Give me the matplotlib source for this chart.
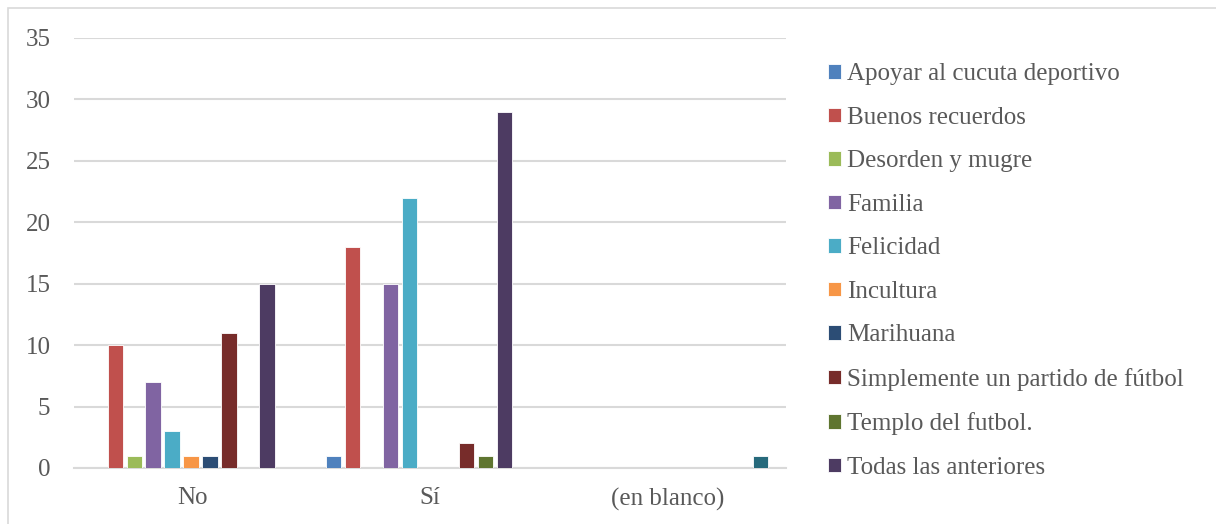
import numpy as np
import matplotlib.pyplot as plt
from matplotlib.patches import Rectangle

plt.rcParams['font.family'] = ['Liberation Serif', 'DejaVu Serif']

grupos = ['No', 'Sí', '(en blanco)']
series = ['Apoyar al cucuta deportivo', 'Buenos recuerdos', 'Desorden y mugre',
          'Familia', 'Felicidad', 'Incultura', 'Marihuana',
          'Simplemente un partido de fútbol', 'Templo del futbol.',
          'Todas las anteriores', '(en blanco)']
colores = ['#4F81BD', '#C0504D', '#9BBB59', '#8064A2', '#4BACC6', '#F79646',
           '#2C4D75', '#772C2A', '#5F7530', '#4D3B62', '#276A7C']

# conteos por serie: [No, Sí, (en blanco)]
apoyar = [0, 1, 0]
buenos = [10, 18, 0]
desorden = [1, 0, 0]
familia = [7, 15, 0]
felicidad = [3, 22, 0]
incultura = [1, 0, 0]
marihuana = [1, 0, 0]
simplemente = [11, 2, 0]
templo = [0, 1, 0]
todas = [15, 29, 0]
blanco = [0, 0, 1]
valores = [apoyar, buenos, desorden, familia, felicidad, incultura,
           marihuana, simplemente, templo, todas, blanco]

gris = '#595959'
fig = plt.figure(figsize=(12.16, 5.24), dpi=100)
ax = fig.add_axes([0.0609, 0.1069, 0.5855, 0.8206])

x = np.arange(len(grupos))
paso = 0.08
for i, (nombre, vals) in enumerate(zip(series, valores)):
    etiqueta = nombre if i < 10 else '_nolegend_'
    ax.bar(x + (i - 5) * paso - 0.007, vals, width=0.064, color=colores[i],
           edgecolor='white', linewidth=0.6, label=etiqueta, zorder=3)

ax.set_xlim(-0.5, 2.5)
ax.set_ylim(0, 35)
ax.set_yticks(range(0, 36, 5))
ax.set_xticks(x)
ax.set_xticklabels(grupos)
ax.grid(axis='y', color='#D9D9D9', linewidth=1.5, zorder=0)
for lado in ['top', 'right', 'left']:
    ax.spines[lado].set_visible(False)
ax.spines['bottom'].set_color('#D9D9D9')
ax.spines['bottom'].set_linewidth(1.5)
ax.tick_params(axis='both', length=0, labelsize=18, colors=gris)
ax.tick_params(axis='y', pad=17)
ax.tick_params(axis='x', pad=14)

fig.legend(loc='upper left', bbox_to_anchor=(0.6727, 0.8985), frameon=False,
           fontsize=18, labelcolor=gris, handlelength=0.52, handleheight=0.52,
           handletextpad=0.25, labelspacing=0.86, borderaxespad=0)

# marco del grafico (solo se ven los bordes superior e izquierdo)
fig.patches.append(Rectangle((8 / 1216, -0.05), 1.1, 1.05 - 8 / 524,
                             transform=fig.transFigure, fill=False,
                             edgecolor='#D9D9D9', linewidth=1.2))

fig.savefig('out.png', dpi=100)
